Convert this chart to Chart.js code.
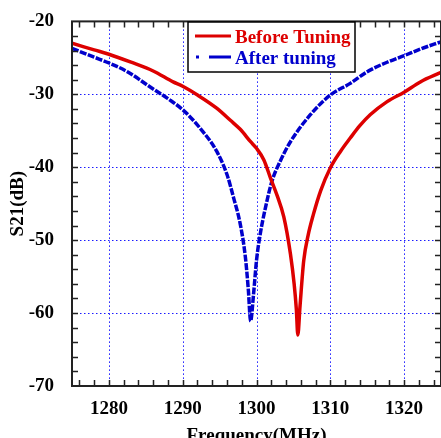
<!DOCTYPE html>
<html>
<head>
<meta charset="utf-8">
<script src="https://cdn.jsdelivr.net/npm/chart.js@4/dist/chart.umd.min.js"></script>
<style>
  html, body { margin: 0; padding: 0; background: #fff; overflow: hidden; }
  canvas { display: block; }
</style>
</head>
<body>
<canvas id="s21Chart" width="441" height="438"></canvas>
<script>
// values
const freqBefore = [1275, 1278, 1280, 1283, 1286, 1288.7, 1290, 1292, 1294.6, 1296.5, 1297.8, 1299.2, 1300,
  1301, 1301.9, 1302.8, 1303.7, 1304.6, 1305.1, 1305.4, 1305.6, 1305.9, 1306.4, 1307, 1307.7, 1308.7,
  1310, 1311.4, 1312.7, 1314, 1315.4, 1317.7, 1320, 1322.2, 1325];
const s21Before = [-23.0, -23.9, -24.5, -25.6, -26.8, -28.3, -28.9, -30.1, -31.9, -33.6, -34.8, -36.5, -37.4,
  -39.0, -41.5, -43.9, -46.8, -51.9, -56.0, -59.5, -63.0, -59.0, -52.8, -49.3, -46.5, -43.2,
  -40.1, -37.8, -36.0, -34.3, -32.8, -31.0, -29.7, -28.3, -27.0];

const freqAfter = [1275, 1278, 1280, 1282.5, 1285.6, 1288, 1290.1, 1292.4, 1294.6, 1296, 1296.9, 1297.8, 1298.5,
  1298.9, 1299.2, 1299.6, 1300, 1300.5, 1301.2, 1302.1, 1303.2, 1304.6, 1307.3, 1310, 1312.7, 1315,
  1317.7, 1320, 1322.2, 1325];
const s21After = [-23.7, -24.9, -25.7, -26.9, -29.0, -30.6, -32.2, -34.7, -37.8, -41.0, -44.2, -47.8, -52.4,
  -56.9, -61.1, -57.4, -52.8, -49.2, -45.6, -41.9, -39.2, -36.5, -32.8, -30.1, -28.5, -26.9,
  -25.6, -24.7, -23.8, -22.8];

const xMajor = [1280, 1290, 1300, 1310, 1320];
const yMajor = [-70, -60, -50, -40, -30, -20];

const serif = "'Liberation Serif', 'Times New Roman', serif";
const tickFont = { family: serif, size: 19, weight: 'bold' };

// dotted blue grid at the major ticks
const dottedGrid = {
  id: 'dottedGrid',
  beforeDatasetsDraw(chart) {
    const { ctx, chartArea: a, scales: { x, y } } = chart;
    ctx.save();
    ctx.strokeStyle = '#1a1aff';
    ctx.lineWidth = 1;
    ctx.setLineDash([1.5, 2.5]);
    ctx.beginPath();
    xMajor.forEach(v => {
      const px = Math.round(x.getPixelForValue(v)) + 0.5;
      ctx.moveTo(px, a.top); ctx.lineTo(px, a.bottom);
    });
    yMajor.forEach(v => {
      const py = Math.round(y.getPixelForValue(v)) + 0.5;
      ctx.moveTo(a.left, py); ctx.lineTo(a.right, py);
    });
    ctx.stroke();
    ctx.restore();
  }
};

// inward ticks on all four sides plus the black frame
const frameTicks = {
  id: 'frameTicks',
  afterDraw(chart) {
    const { ctx, chartArea: a, scales: { x, y } } = chart;
    ctx.save();
    ctx.strokeStyle = '#222';
    ctx.lineWidth = 1.5;
    ctx.beginPath();
    for (let v = 1276; v <= 1324; v += 2) {
      const px = Math.round(x.getPixelForValue(v)) + 0.5;
      ctx.moveTo(px, a.bottom); ctx.lineTo(px, a.bottom - 6);
      ctx.moveTo(px, a.top); ctx.lineTo(px, a.top + 6);
    }
    for (let v = -68; v <= -22; v += 2) {
      const py = Math.round(y.getPixelForValue(v)) + 0.5;
      ctx.moveTo(a.left, py); ctx.lineTo(a.left + 6, py);
      ctx.moveTo(a.right, py); ctx.lineTo(a.right - 6, py);
    }
    ctx.stroke();
    ctx.lineWidth = 2;
    ctx.strokeRect(a.left, a.top, a.right - a.left, a.bottom - a.top);
    ctx.restore();
  }
};

// boxed legend inside the plot, top right
const boxLegend = {
  id: 'boxLegend',
  afterDraw(chart) {
    const ctx = chart.ctx;
    const ds = chart.data.datasets;
    const bx = 188, by = 22, bw = 167, bh = 50;
    ctx.save();
    ctx.fillStyle = '#fff';
    ctx.fillRect(bx, by, bw, bh);
    ctx.strokeStyle = '#000';
    ctx.lineWidth = 1.5;
    ctx.strokeRect(bx, by, bw, bh);
    ctx.font = 'bold 19px ' + serif;
    ctx.textBaseline = 'middle';
    ds.forEach((d, i) => {
      const ly = by + 14 + i * 21;
      ctx.strokeStyle = d.borderColor;
      ctx.lineWidth = 3;
      ctx.beginPath();
      if (i === 0) {
        ctx.moveTo(195, ly); ctx.lineTo(231, ly);
      } else {
        ctx.moveTo(196, ly); ctx.lineTo(199, ly);
        ctx.moveTo(209, ly); ctx.lineTo(231, ly);
      }
      ctx.stroke();
      ctx.fillStyle = d.borderColor;
      ctx.fillText(d.label, 235, ly + 2);
    });
    ctx.restore();
  }
};

new Chart(document.getElementById('s21Chart'), {
  type: 'line',
  data: {
    datasets: [{
      label: 'Before Tuning',
      data: freqBefore.map((f, i) => ({ x: f, y: s21Before[i] })),
      borderColor: '#dd0000',
      borderWidth: 3.5,
      pointRadius: 0,
      cubicInterpolationMode: 'monotone'
    }, {
      label: 'After tuning',
      data: freqAfter.map((f, i) => ({ x: f, y: s21After[i] })),
      borderColor: '#0000cc',
      borderWidth: 3.5,
      borderDash: [7, 1.5],
      pointRadius: 0,
      cubicInterpolationMode: 'monotone'
    }]
  },
  options: {
    responsive: false,
    animation: false,
    layout: { padding: { top: 19, right: 0, left: 0, bottom: 0 } },
    plugins: { legend: { display: false }, tooltip: { enabled: false } },
    scales: {
      x: {
        type: 'linear',
        min: 1275, max: 1325,
        afterBuildTicks: s => { s.ticks = xMajor.map(v => ({ value: v })); },
        afterFit: s => { s.height = 52; },
        grid: { display: false },
        border: { display: false },
        ticks: { color: '#000', padding: 4, maxRotation: 0, font: tickFont, callback: v => String(v) },
        title: { display: true, text: 'Frequency(MHz)', color: '#000', padding: { top: 0, bottom: -9 },
          font: tickFont }
      },
      y: {
        min: -70, max: -20,
        afterBuildTicks: s => { s.ticks = yMajor.map(v => ({ value: v })); },
        afterFit: s => { s.width = 72; },
        grid: { display: false },
        border: { display: false },
        ticks: { color: '#000', padding: 10, font: tickFont, callback: v => String(v) },
        title: { display: true, text: 'S21(dB)', color: '#000', padding: { top: 7, bottom: 0 },
          font: tickFont }
      }
    }
  },
  plugins: [dottedGrid, frameTicks, boxLegend]
});
</script>
</body>
</html>
